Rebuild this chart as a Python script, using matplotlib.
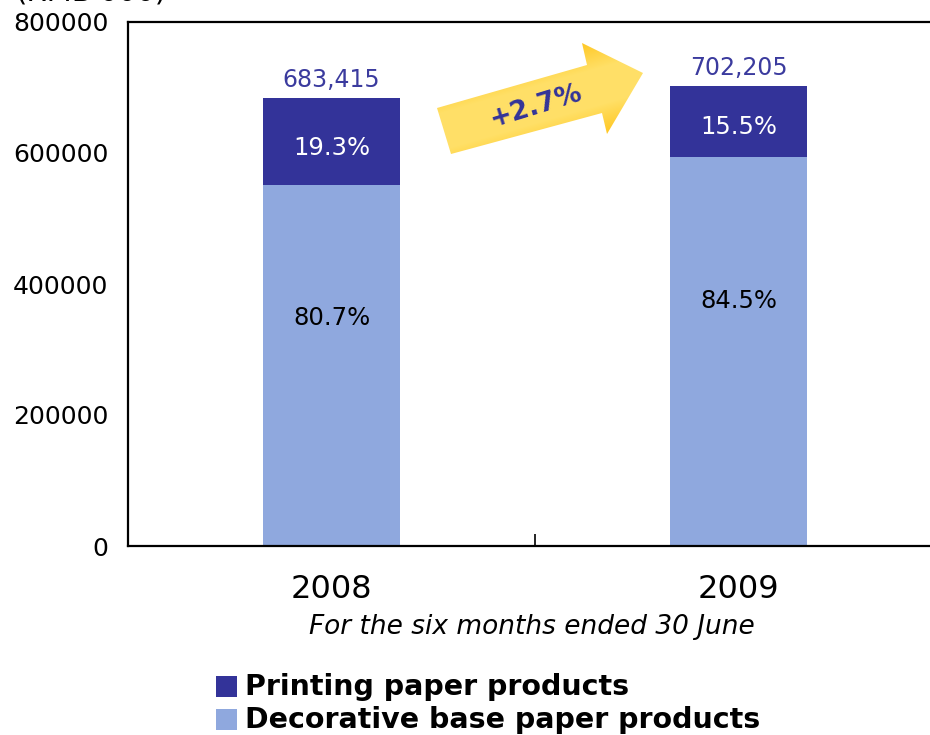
import numpy as np
import matplotlib
matplotlib.use("Agg")
import matplotlib.pyplot as plt
from matplotlib.patches import Polygon, Rectangle
from matplotlib.colors import LinearSegmentedColormap

# ---- data ----
years = ["2008", "2009"]
totals = [683415, 702205]
decorative_pct = [80.7, 84.5]
printing_pct = [19.3, 15.5]
total_labels = ["683,415", "702,205"]
growth_label = "+2.7%"
y_ticks = [0, 200000, 400000, 600000, 800000]
series_names = ["Printing paper products", "Decorative base paper products"]
unit_label = "(RMB'000)"
x_caption = "For the six months ended 30 June"

dark = "#333399"
light = "#8FA8DE"

W, H = 930, 735
fig = plt.figure(figsize=(W / 100, H / 100), dpi=100)
fig.patch.set_facecolor("white")

ax = fig.add_axes([128 / W, 1 - 546 / H, (942 - 128) / W, (546 - 22) / H])

x = np.arange(len(years))
totals_a = np.array(totals, dtype=float)
dec_vals = totals_a * np.array(decorative_pct) / 100.0
prt_vals = totals_a - dec_vals
bw = 0.337

ax.bar(x, dec_vals, width=bw, color=light, label=series_names[1], zorder=2)
ax.bar(x, prt_vals, width=bw, bottom=dec_vals, color=dark, label=series_names[0], zorder=2)

for i in range(len(years)):
    ax.text(x[i], dec_vals[i] * 0.63, f"{decorative_pct[i]}%", ha="center", va="center",
            fontsize=17.5, color="black")
    ax.text(x[i], dec_vals[i] + prt_vals[i] * 0.42, f"{printing_pct[i]}%", ha="center", va="center",
            fontsize=17.5, color="white")
    ax.text(x[i], totals_a[i] + 9000, total_labels[i], ha="center", va="bottom",
            fontsize=17, color="#3B3B9E")

ax.set_xlim(-0.5, 1.5)
ax.set_ylim(0, 800000)
ax.set_yticks(y_ticks)
ax.set_yticklabels([str(v) for v in y_ticks], fontsize=18)
ax.tick_params(axis="y", length=0, pad=14)
ax.set_xticks(x)
ax.set_xticklabels(years, fontsize=23)
ax.tick_params(axis="x", length=0, pad=20)
ax.set_xticks([0.5], minor=True)
ax.tick_params(axis="x", which="minor", direction="in", length=9, width=1.2)
for s in ["left", "bottom", "top"]:
    ax.spines[s].set_linewidth(1.6)
ax.spines["right"].set_visible(False)

# caption
fig.text(532 / W, 1 - 627 / H, x_caption, ha="center", va="center", fontsize=19, style="italic")
fig.text(15 / W, 1 + 7 / H, unit_label, ha="left", va="center", fontsize=21)

# legend
leg_items = [(series_names[0], dark, 687), (series_names[1], light, 720)]
for name, col, yy in leg_items:
    fig.patches.append(Rectangle((216 / W, 1 - (yy + 10) / H), 21 / W, 21 / H,
                                 transform=fig.transFigure, facecolor=col, edgecolor="none"))
    fig.text(245 / W, 1 - yy / H, name, ha="left", va="center", fontsize=20.5, fontweight="bold")

# overlay axes for growth arrow annotation
ov = fig.add_axes([0, 0, 1, 1], zorder=5)
ov.set_xlim(0, W)
ov.set_ylim(H, 0)
ov.axis("off")
ov.patch.set_alpha(0)
pts = [(437, 108), (587, 65), (582, 43), (643, 73), (607, 134), (602, 113), (451, 154)]
poly = Polygon(pts, closed=True, facecolor="none", edgecolor="none")
ov.add_patch(poly)
cmap = LinearSegmentedColormap.from_list("gold", ["#FFC41A", "#FFE068", "#FFE068", "#FFC41A"])
ang = np.deg2rad(16)
gx, gy = np.meshgrid(np.linspace(430, 650, 220), np.linspace(40, 160, 120))
d = (gx - 444) * np.sin(ang) + (gy - 131) * np.cos(ang)
im = ov.imshow(d, extent=(430, 650, 160, 40), cmap=cmap, origin="upper", aspect="auto",
               vmin=-52, vmax=52, zorder=1)
im.set_clip_path(poly)
ov.text(536, 106, growth_label, ha="center", va="center", rotation=17, fontsize=19,
        fontweight="bold", color=dark, zorder=2)

fig.savefig("out.png", dpi=100)
